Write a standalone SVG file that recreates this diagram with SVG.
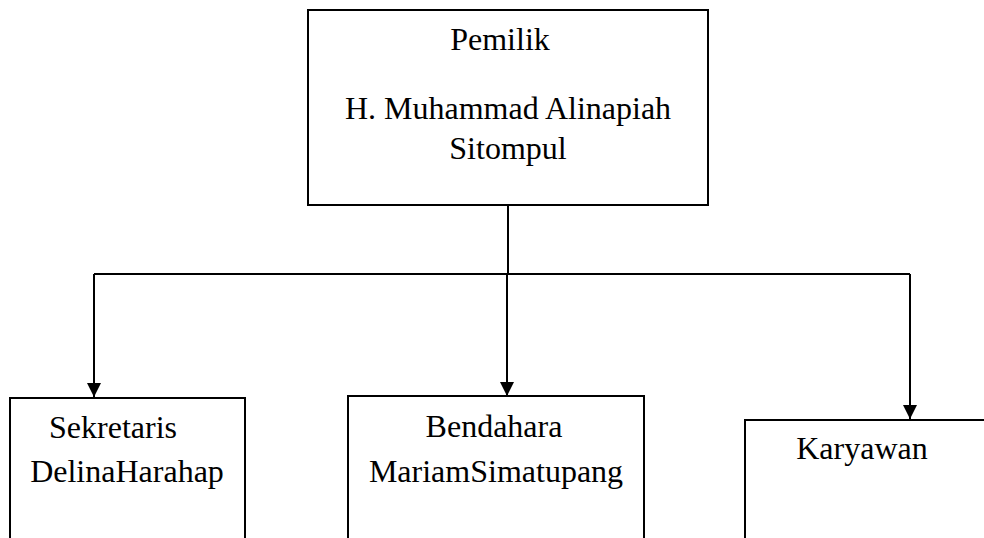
<svg xmlns="http://www.w3.org/2000/svg" width="984" height="538" viewBox="0 0 984 538">
<style>
.box{fill:#fff;stroke:#000;stroke-width:2}
.ln{fill:none;stroke:#000;stroke-width:2}
text{font-family:"Liberation Serif","Times New Roman",serif;font-size:32px;fill:#000;text-anchor:middle}
</style>
<defs>
<marker id="arr" markerUnits="userSpaceOnUse" markerWidth="16" markerHeight="16" viewBox="0 0 16 16" refX="14" refY="8" orient="auto">
<path d="M0,1 L14,8 L0,15 Z" fill="#000"/>
</marker>
</defs>
<rect width="984" height="538" fill="#fff"/>
<g id="connectors">
<path class="ln" d="M508,205 V274"/>
<path class="ln" d="M94,274 H910"/>
<path class="ln" d="M94,274 V397" marker-end="url(#arr)"/>
<path class="ln" d="M507,274 V396" marker-end="url(#arr)"/>
<path class="ln" d="M910,274 V419" marker-end="url(#arr)"/>
</g>
<g id="pemilik">
<rect class="box" x="308" y="10" width="400" height="195"/>
<text x="500" y="50">Pemilik</text>
<text x="508" y="119">H. Muhammad Alinapiah</text>
<text x="508" y="159">Sitompul</text>
</g>
<g id="sekretaris">
<rect class="box" x="10" y="398" width="235" height="150"/>
<text x="113" y="438">Sekretaris</text>
<text x="127" y="482">DelinaHarahap</text>
</g>
<g id="bendahara">
<rect class="box" x="348" y="396" width="296" height="152"/>
<text x="494" y="437">Bendahara</text>
<text x="496" y="482">MariamSimatupang</text>
</g>
<g id="karyawan">
<rect class="box" x="745" y="420" width="260" height="128"/>
<text x="862" y="459">Karyawan</text>
</g>
</svg>
